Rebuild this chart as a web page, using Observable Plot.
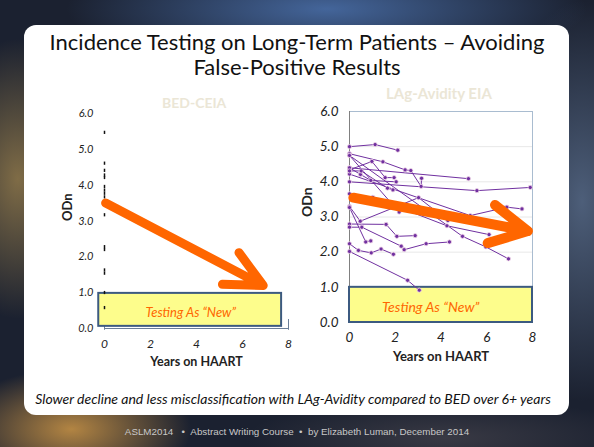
<!DOCTYPE html>
<html>
<head>
<meta charset="utf-8">
<script src="https://cdn.jsdelivr.net/npm/d3@7"></script>
<script src="https://cdn.jsdelivr.net/npm/@observablehq/plot@0.6"></script>
<style>
html, body { margin: 0; padding: 0; width: 594px; height: 447px; overflow: hidden; }
body {
  position: relative;
  font-family: Lato, "Open Sans", sans-serif;
  background:
    radial-gradient(ellipse 120px 60px at 12% 96%, rgba(205,150,70,0.85), rgba(205,150,70,0) 100%),
    radial-gradient(ellipse 80px 140px at 3% 40%, rgba(170,140,80,0.7), rgba(170,140,80,0) 100%),
    radial-gradient(ellipse 260px 60px at 55% 2%, rgba(70,105,160,0.95), rgba(70,105,160,0) 100%),
    radial-gradient(ellipse 90px 200px at 98% 45%, rgba(90,110,140,0.8), rgba(90,110,140,0) 100%),
    radial-gradient(ellipse 200px 40px at 75% 98%, rgba(60,60,70,0.9), rgba(60,60,70,0) 100%),
    #1b2130;
}
#card { position: absolute; left: 24px; top: 25px; width: 545px; height: 390px; background: #fff; border-radius: 12px; }
.abs { position: absolute; white-space: nowrap; }
#title { left: 0; width: 594px; top: 29px; text-align: center; font-size: 22px; line-height: 25px; color: #111; }
.sub { font-weight: bold; color: #ebe6d6; }
#sub1 { left: 162px; top: 94px; font-size: 14px; }
#sub2 { left: 386px; top: 84px; font-size: 15px; }
#caption { left: 0; width: 586px; top: 390px; text-align: center; font-style: italic; font-size: 14px; color: #111; }
#footer { left: 0; width: 594px; top: 426px; text-align: center; font-family: "Liberation Sans", Arial, sans-serif; font-size: 9.8px; color: #c8c8c8; }
#left { position: absolute; left: 50px; top: 80px; }
#right { position: absolute; left: 290px; top: 80px; }
svg { overflow: visible; }
</style>
</head>
<body>
<div id="card"></div>
<div id="title" class="abs">Incidence Testing on Long-Term Patients – Avoiding<br>False-Positive Results</div>
<div id="sub1" class="abs sub">BED-CEIA</div>
<div id="sub2" class="abs sub">LAg-Avidity EIA</div>
<div id="left"></div>
<div id="right"></div>
<div id="caption" class="abs">Slower decline and less misclassification with LAg-Avidity compared to BED over 6+ years</div>
<div id="footer" class="abs">ASLM2014 &nbsp; • &nbsp;Abstract Writing Course &nbsp;• &nbsp;by Elizabeth Luman, December 2014</div>
<script>
// ---------- data ----------
const xTicks = [0, 2, 4, 6, 8];
const yTicks = [0, 1, 2, 3, 4, 5, 6];
const gridY = [2, 3, 4, 5];
const boxLabel = ["Testing As \u201CNew\u201D"];

// BED-CEIA: baseline ODn values visible only as marks at year 0
const bedBaselineOdn = [5.46, 4.6, 4.4, 4.27, 4.2, 3.95, 3.85, 3.76, 3.66, 3.16, 2.27, 2.19, 1.62, 1.53, 0.99, 0.57];

// LAg-Avidity EIA: per-patient trajectories [years on HAART, ODn]
const lagTrajectories = [
  [[0, 5.0], [1.12, 5.06], [2.11, 4.9]],
  [[0, 4.8], [1.46, 4.57], [2.43, 4.34], [2.68, 4.32], [3.13, 3.87], [3.15, 4.1]],
  [[0, 4.4], [5.2, 4.09]],
  [[0, 4.0], [5.57, 3.75], [7.9, 3.84]],
  [[0, 4.22], [5.28, 3.04], [6.76, 3.26], [6.88, 3.28], [7.54, 3.23]],
  [[0, 4.34], [0.98, 4.58], [1.56, 4.12], [1.95, 4.12]],
  [[0, 4.4], [0.48, 4.21], [0.93, 4.04], [2.04, 4.0]],
  [[0, 4.75], [2.17, 3.14]],
  [[0, 4.31], [0.51, 4.31], [1.66, 3.82], [1.9, 3.77]],
  [[0, 4.75], [4.94, 2.45], [5.96, 2.15], [6.95, 1.81]],
  [[0, 3.66], [1.02, 3.56], [4.26, 2.75], [6.1, 2.5]],
  [[0, 3.3], [0.47, 2.88], [3.02, 3.55], [4.3, 2.9]],
  [[0, 3.27], [0.71, 2.29], [0.93, 2.32]],
  [[0, 2.8], [1.6, 2.79], [2.07, 2.45], [2.87, 2.47]],
  [[0, 2.71], [0.54, 2.71], [2.26, 2.17], [2.39, 2.07], [3.35, 2.24], [4.37, 2.29]],
  [[0, 2.24], [0.39, 2.05], [0.95, 1.98], [1.38, 2.09], [1.92, 1.94]],
  [[0, 2.02], [2.54, 1.2], [3.05, 0.92]]
];

// "Testing as new" regions and trend arrows
const boxLeft = [{x1: -0.25, x2: 7.7, y1: 0.06, y2: 0.98}];
const boxRight = [{x1: 0, x2: 8, y1: 0, y2: 1}];
const labelLeft = [{x: 3.75, y: 0.45}];
const labelRight = [{x: 3.55, y: 0.43}];
const arrowLeft = [{x1: 0.05, y1: 3.5, x2: 6.9, y2: 1.2}];
const arrowRight = [{x1: 0.17, y1: 3.55, x2: 7.8, y2: 2.6}];

// ---------- charts ----------
const orange = "#ff6600";
const purple = "#7030a0";
const fmt = d3.format(".1f");

function tickLabels(ySize, xSize, xDy) {
  return [
    Plot.text(yTicks, {frameAnchor: "left", y: (d) => d, text: (d) => fmt(d), dx: -11, textAnchor: "end",
      fontStyle: "italic", fontSize: ySize, fill: "#222"}),
    Plot.text(xTicks, {frameAnchor: "bottom", x: (d) => d, text: (d) => String(d), dy: xDy,
      fontStyle: "italic", fontSize: xSize, fill: "#222"})
  ];
}

const left = Plot.plot({
  width: 250, height: 300,
  marginLeft: 54, marginRight: 12, marginTop: 33, marginBottom: 52,
  style: {fontFamily: "Lato, sans-serif", fontSize: "11px", color: "#222", background: "transparent", overflow: "visible"},
  x: {domain: [0, 8], axis: null},
  y: {domain: [0, 6], axis: null},
  marks: [
    Plot.ruleY([0], {x1: 0, x2: 8, stroke: "#6b7f99", strokeWidth: 1}),
    Plot.ruleX([0, 8], {y1: -0.05, y2: 0.25, stroke: "#6b7f99", strokeWidth: 1}),
    Plot.rect(boxLeft, {x1: "x1", x2: "x2", y1: "y1", y2: "y2", fill: "#fdfd8c", stroke: "#3c5a80", strokeWidth: 2}),
    Plot.text(labelLeft, {x: "x", y: "y", text: () => boxLabel[0], fill: orange, fontStyle: "italic", fontSize: 13}),
    Plot.ruleX(bedBaselineOdn, {x: 0, y1: (d) => d - 0.045, y2: (d) => d + 0.045, stroke: "#111", strokeWidth: 1.5}),
    Plot.arrow(arrowLeft, {x1: "x1", y1: "y1", x2: "x2", y2: "y2", stroke: orange, strokeWidth: 9, headLength: 6.8, headAngle: 52}),
    ...tickLabels(11, 12, 19),
    Plot.text(["Years on HAART"], {text: (d) => d, frameAnchor: "bottom", dy: 37, fontWeight: "bold", fontSize: 12.5}),
    Plot.text(["ODn"], {text: (d) => d, frameAnchor: "left", dx: -37, rotate: -90, fontWeight: "bold", fontSize: 13})
  ]
});
document.getElementById("left").append(left);

const lagRows = lagTrajectories.flatMap((t, id) => t.map(([x, y]) => ({id, x, y})));

const right = Plot.plot({
  width: 270, height: 300,
  marginLeft: 59, marginRight: 28, marginTop: 31, marginBottom: 58,
  style: {fontFamily: "Lato, sans-serif", fontSize: "13px", color: "#222", background: "transparent", overflow: "visible"},
  x: {domain: [0, 8], axis: null},
  y: {domain: [0, 6], axis: null},
  marks: [
    Plot.ruleY(gridY, {stroke: "#e8e8e8"}),
    Plot.frame({stroke: "#a9bcd0"}),
    Plot.ruleX([0], {stroke: "#808080"}),
    Plot.rect(boxRight, {x1: "x1", x2: "x2", y1: "y1", y2: "y2", fill: "#fdfd8c", stroke: "#3c5a80", strokeWidth: 2}),
    Plot.text(labelRight, {x: "x", y: "y", text: () => boxLabel[0], fill: orange, fontStyle: "italic", fontSize: 14}),
    Plot.line(lagRows, {x: "x", y: "y", z: "id", stroke: purple, strokeWidth: 1}),
    Plot.dot(lagRows, {x: "x", y: "y", r: 2.1, fill: purple, stroke: "#f3d9e8", strokeWidth: 0.8}),
    Plot.arrow(arrowRight, {x1: "x1", y1: "y1", x2: "x2", y2: "y2", stroke: orange, strokeWidth: 10, headLength: 6.3, headAngle: 55}),
    ...tickLabels(13.5, 13.5, 19),
    Plot.text(["Years on HAART"], {text: (d) => d, frameAnchor: "bottom", dy: 38, fontWeight: "bold", fontSize: 13}),
    Plot.text(["ODn"], {text: (d) => d, frameAnchor: "left", dx: -42, rotate: -90, fontWeight: "bold", fontSize: 14})
  ]
});
document.getElementById("right").append(right);
</script>
</body>
</html>
